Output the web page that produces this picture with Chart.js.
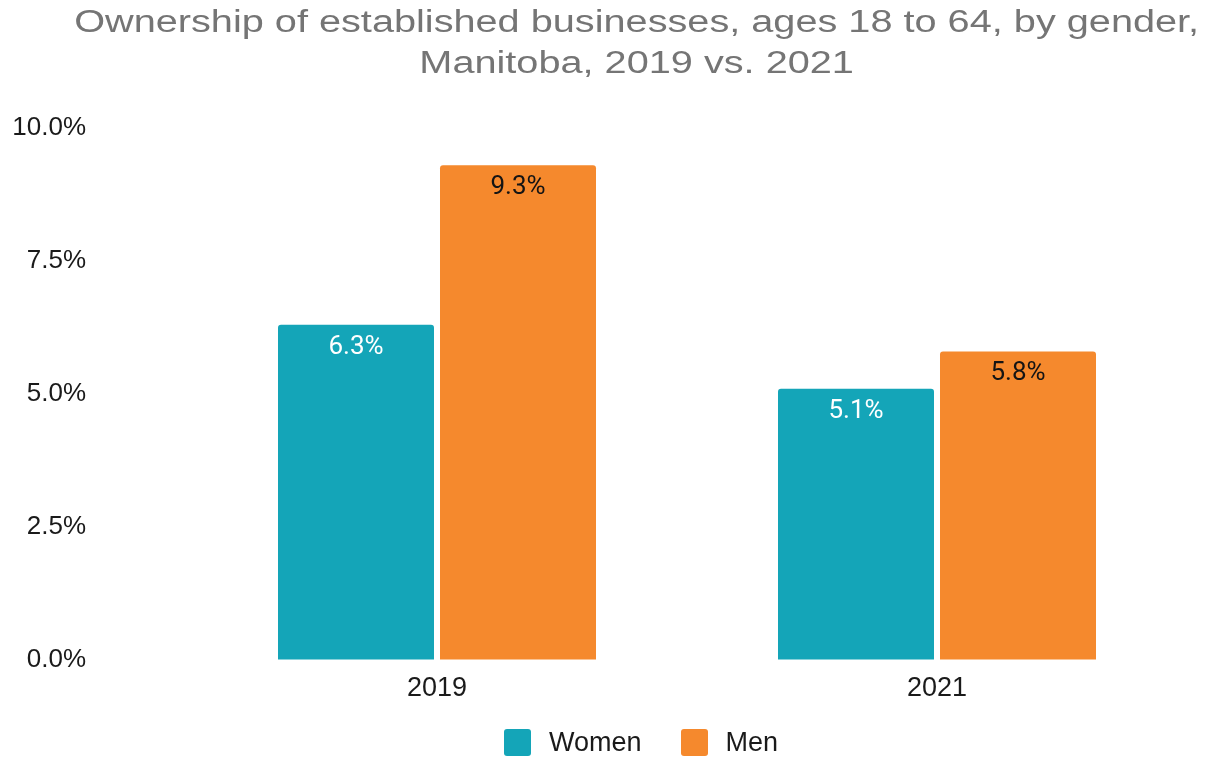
<!DOCTYPE html>
<html>
<head>
<meta charset="utf-8">
<script src="https://cdn.jsdelivr.net/npm/chart.js@4/dist/chart.umd.min.js"></script>
<style>
  html, body { margin: 0; padding: 0; background: #fff; }
  #wrap { position: relative; width: 1223px; height: 757px; overflow: hidden; }
  #chart { position: absolute; left: 0; top: 0; }
  #title {
    position: absolute; left: 25px; top: 1px; width: 1223px;
    font: 31px/41px "Liberation Sans", Arial, sans-serif;
    color: #757575; text-align: center; white-space: nowrap;
    transform: scaleX(1.28); transform-origin: 611px 0;
  }
  #legend {
    position: absolute; left: 504px; top: 729px;
    display: flex; align-items: center;
    font: 27px/27px "Liberation Sans", Arial, sans-serif; color: #1a1a1a;
  }
  #legend .item { display: flex; align-items: center; }
  #legend .item + .item { margin-left: 39px; }
  #legend .box { width: 27px; height: 27px; border-radius: 3px; margin-right: 18px; }
</style>
</head>
<body>
<div id="wrap">
  <canvas id="chart" width="1223" height="757"></canvas>
  <div id="title">Ownership of established businesses, ages 18 to 64, by gender,<br>Manitoba, 2019 vs. 2021</div>
  <div id="legend"></div>
</div>
<script>
const years = ["2019", "2021"];
const seriesNames = ["Women", "Men"];
const women = [6.3, 5.1];
const men = [9.3, 5.8];
const yTicks = [0, 2.5, 5, 7.5, 10];

const TEAL = "#14a5b8";
const ORANGE = "#f5892d";
const colors = [TEAL, ORANGE];
const labelColors = ["#ffffff", "#141414"];

const fmt = (v) => v.toFixed(1) + "%";

// value labels drawn just inside the top of each bar
const barLabels = {
  id: "barLabels",
  afterDatasetsDraw(chart) {
    const { ctx } = chart;
    ctx.save();
    ctx.font = "26px Roboto";
    ctx.textAlign = "center";
    ctx.textBaseline = "middle";
    chart.data.datasets.forEach((ds, i) => {
      chart.getDatasetMeta(i).data.forEach((bar, j) => {
        ctx.fillStyle = labelColors[i];
        ctx.fillText(fmt(ds.data[j]), bar.x, bar.y + 22.5);
      });
    });
    ctx.restore();
  },
};

const barDataset = (label, data, i) => ({
  label,
  data,
  backgroundColor: colors[i],
  borderRadius: 3,
  borderSkipped: "bottom",
  categoryPercentage: 0.648,
  barPercentage: 0.963,
});

new Chart(document.getElementById("chart"), {
  type: "bar",
  data: {
    labels: years,
    datasets: [
      barDataset(seriesNames[0], women, 0),
      barDataset(seriesNames[1], men, 1),
    ],
  },
  options: {
    responsive: false,
    animation: false,
    layout: { padding: { left: 0, right: 36, top: 128, bottom: 0 } },
    plugins: {
      title: { display: false },
      legend: { display: false },
      tooltip: { enabled: false },
    },
    scales: {
      x: {
        afterFit(scale) {
          scale.height = 97;
        },
        grid: { display: false, drawTicks: false },
        border: { display: false },
        ticks: {
          color: "#1a1a1a",
          font: { family: "'Liberation Sans', Arial, sans-serif", size: 27 },
          padding: 12,
        },
      },
      y: {
        min: 0,
        max: 10,
        afterFit(scale) {
          scale.width = 187;
        },
        afterBuildTicks(scale) {
          scale.ticks = yTicks.map((v) => ({ value: v }));
        },
        // invisible tick marks keep the labels away from the bars
        grid: {
          drawOnChartArea: false,
          drawTicks: true,
          tickLength: 101,
          color: "rgba(0,0,0,0)",
        },
        border: { display: false },
        ticks: {
          color: "#1a1a1a",
          font: { family: "'Liberation Sans', Arial, sans-serif", size: 26 },
          padding: 0,
          callback: (v) => fmt(v),
        },
      },
    },
  },
  plugins: [barLabels],
});

// legend below the plot
const legend = document.getElementById("legend");
seriesNames.forEach((name, i) => {
  const item = document.createElement("div");
  item.className = "item";
  const box = document.createElement("span");
  box.className = "box";
  box.style.background = colors[i];
  const text = document.createElement("span");
  text.textContent = name;
  item.append(box, text);
  legend.append(item);
});
</script>
</body>
</html>
